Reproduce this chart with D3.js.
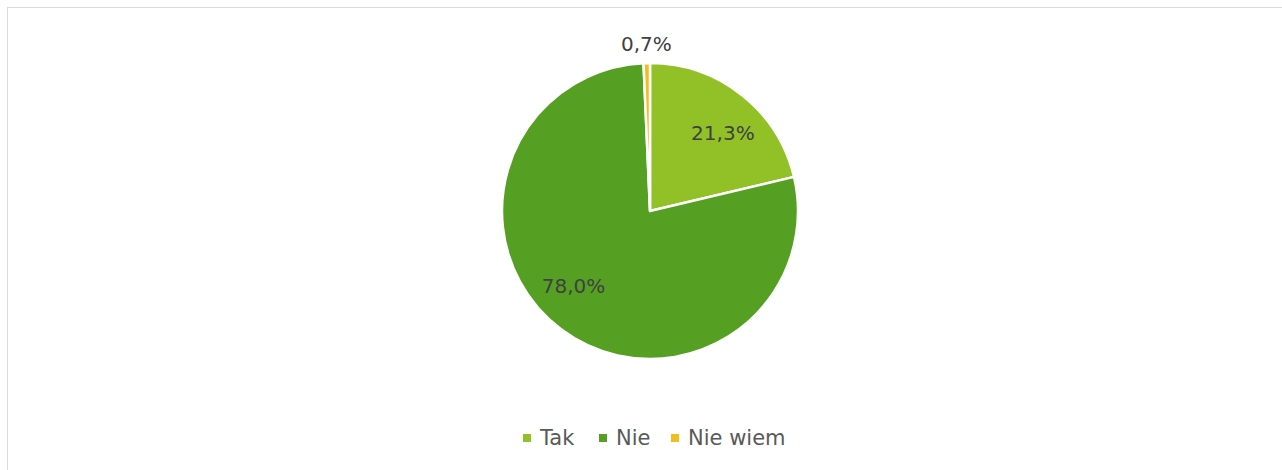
<!DOCTYPE html>
<html>
<head>
<meta charset="utf-8">
<script src="https://cdn.jsdelivr.net/npm/d3@7"></script>
<style>
  body { margin: 0; background: #fff; }
  text { font-family: "DejaVu Sans", sans-serif; }
</style>
</head>
<body>
<svg id="chart" width="1282" height="470"></svg>
<script>
let categories = ["Tak", "Nie", "Nie wiem"];
let values = [21.3, 78.0, 0.7];
let colors = ["#92C027", "#55A022", "#F2BE1E"];

let svg = d3.select("#chart");

// chart frame
svg.append("rect")
    .attr("x", 7.5).attr("y", 7.5)
    .attr("width", 1290).attr("height", 480)
    .attr("fill", "#fff")
    .attr("stroke", "#d9d9d9");

let cx = 650, cy = 211, r = 148;

let pie = d3.pie().sort(null).value(d => d.v);
let data = categories.map((c, i) => ({ name: c, v: values[i], color: colors[i] }));
let arcs = pie(data);

let arc = d3.arc().innerRadius(0).outerRadius(r);

let g = svg.append("g").attr("transform", `translate(${cx},${cy})`);

g.selectAll("path")
    .data(arcs)
    .enter()
    .append("path")
    .attr("d", arc)
    .attr("fill", d => d.data.color)
    .attr("stroke", "#fff")
    .attr("stroke-width", 2.5)
    .attr("stroke-linejoin", "round");

let fmt = v => v.toFixed(1).replace(".", ",") + "%";

g.selectAll("text.lbl")
    .data(arcs)
    .enter()
    .append("text")
    .attr("class", "lbl")
    .attr("transform", function (d) {
        let a = (d.startAngle + d.endAngle) / 2;
        let rr = d.data.v < 2 ? 167 : 107;
        if (d.data.name === "Nie") a += 0.15;
        if (d.data.name === "Tak") a += 0.08;
        return `translate(${rr * Math.sin(a)},${-rr * Math.cos(a)})`;
    })
    .attr("text-anchor", "middle")
    .attr("dy", "0.35em")
    .attr("font-size", 20)
    .attr("fill", "#404040")
    .text(d => fmt(d.data.v));

// legend
let legendX = [523, 599, 671];
let leg = svg.append("g").attr("transform", "translate(0,438)");
let items = leg.selectAll("g")
    .data(data)
    .enter()
    .append("g")
    .attr("transform", (d, i) => `translate(${legendX[i]},0)`);
items.append("rect")
    .attr("x", 0).attr("y", -4)
    .attr("width", 8).attr("height", 8)
    .attr("fill", d => d.color);
items.append("text")
    .attr("x", 17)
    .attr("dy", "0.35em")
    .attr("font-size", 21)
    .attr("fill", "#595959")
    .text(d => d.name);
</script>
</body>
</html>
